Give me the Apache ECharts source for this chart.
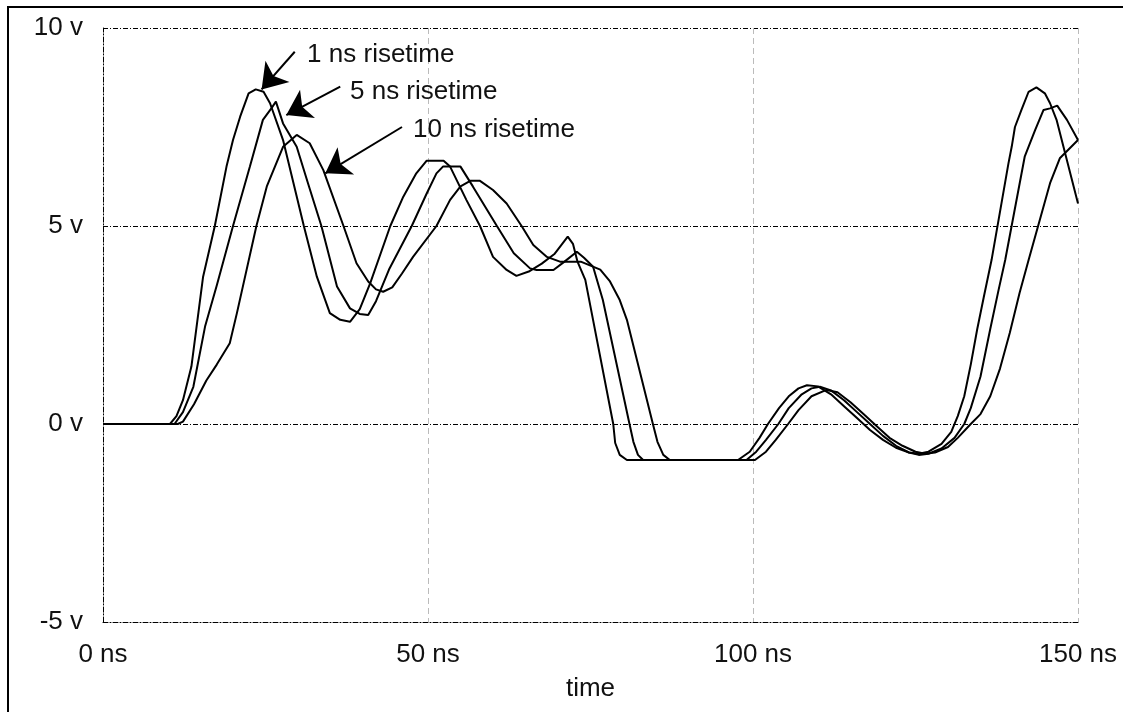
<!DOCTYPE html>
<html>
<head>
<meta charset="utf-8" />
<title>risetime</title>
<script src="https://cdn.jsdelivr.net/npm/echarts@6/dist/echarts.min.js"></script>
<style>
  html, body { margin: 0; padding: 0; background: #fff; }
  #chart { width: 1123px; height: 712px; }
</style>
</head>
<body>
<div id="chart"></div>
<script type="text/javascript">
// time (ns), voltage (v)
var rise1ns = [
  [0,0],[10.3,0],[11.3,0.2],[12.3,0.6],[13.6,1.45],[15.4,3.72],[17.2,5.0],[19,6.5],[20,7.17],[21.1,7.76],
  [22.4,8.35],[23.5,8.45],[24.7,8.39],[25.7,8.1],[27.7,7.17],[30.9,5.0],[32.9,3.72],[34.9,2.8],[36.5,2.63],
  [38,2.58],[39.5,2.9],[41.1,3.55],[44.2,5.0],[46.2,5.74],[48.2,6.33],[49.8,6.65],[52.4,6.65],[53.4,6.5],
  [55.9,5.66],[58,5.0],[60,4.22],[62.1,3.89],[63.6,3.74],[65.5,3.85],[67.5,4.05],[69.5,4.3],[71.5,4.73],
  [72.3,4.55],[73,4.1],[74.2,3.64],[78.5,0],[78.8,-0.48],[79.5,-0.78],[80.6,-0.91],[97.7,-0.91],[99.5,-0.7],
  [101,-0.35],[102.3,0],[104,0.4],[105.5,0.7],[107,0.9],[108.3,0.98],[110,0.95],[112,0.75],[114,0.45],
  [116,0.15],[118,-0.15],[120,-0.4],[122,-0.6],[124,-0.72],[125.5,-0.75],[127,-0.7],[129,-0.5],[130.5,-0.2],
  [131.5,0.2],[132.5,0.7],[133.5,1.5],[134.5,2.4],[135.5,3.2],[136.7,4.14],[139.3,6.58],[139.8,7.0],
  [140.3,7.5],[141.3,7.93],[142.4,8.39],[143.6,8.5],[144.9,8.35],[145.7,8.1],[146.7,7.68],[150,5.57]
];
var rise5ns = [
  [0,0],[11,0],[12.3,0.3],[13.9,0.94],[15.7,2.46],[17.5,3.5],[20,5.0],[22.6,6.5],[24.6,7.68],[25.9,7.97],
  [26.6,8.14],[27.7,7.59],[29.8,7.0],[31.5,6.1],[33.6,5.0],[36,3.47],[38,2.92],[39.5,2.78],[40.8,2.75],
  [42,3.1],[44,3.9],[47.5,5.0],[49.8,5.82],[51.3,6.33],[52.3,6.5],[55,6.5],[56.9,6.0],[60.6,5.0],[63.2,4.31],
  [65.7,3.93],[66.7,3.89],[69.3,3.89],[71,4.1],[72.9,4.35],[74,4.2],[75.4,3.97],[76.9,3.13],[81,0],
  [81.6,-0.45],[82.3,-0.78],[83.1,-0.91],[99,-0.91],[100.5,-0.7],[102,-0.4],[103.9,0],[105.5,0.4],
  [107.5,0.75],[109,0.9],[110.3,0.94],[112,0.85],[114,0.6],[116,0.3],[118,0],[120,-0.3],[122,-0.55],
  [124,-0.72],[125.5,-0.78],[127,-0.75],[129,-0.62],[131,-0.35],[132.5,0],[133.5,0.4],[135,1.2],[136.5,2.4],
  [137.8,3.4],[138.8,4.14],[141.8,6.75],[143.4,7.42],[144.7,7.93],[145.7,7.97],[146.8,8.04],[148.3,7.68],[150,7.17]
];
var rise10ns = [
  [0,0],[11.5,0],[12.3,0.06],[14,0.5],[15.9,1.1],[17.5,1.5],[19.5,2.04],[20.6,2.8],[23.6,5.0],[25.2,6.0],
  [27.7,7.0],[29.8,7.3],[31.8,7.09],[33.9,6.41],[37,5.0],[39,4.06],[40.8,3.6],[42,3.4],[43.1,3.34],[44.5,3.45],
  [46,3.8],[47.7,4.22],[51.3,5.0],[53.4,5.66],[55,6.0],[56.5,6.14],[58,6.14],[60,5.91],[62.1,5.57],[64.4,5.0],
  [66.2,4.52],[68.3,4.22],[70.3,4.1],[73.5,4.1],[76.5,3.9],[78,3.6],[79.5,3.13],[80.6,2.63],[84.6,0],
  [85.3,-0.45],[86.2,-0.78],[87.2,-0.91],[100.3,-0.91],[102,-0.7],[103.5,-0.4],[105.4,0],[107,0.35],[109,0.7],
  [111.3,0.86],[113,0.8],[115,0.55],[117,0.25],[119,-0.05],[121,-0.35],[123,-0.55],[125,-0.7],[126.5,-0.75],
  [128,-0.72],[130,-0.58],[131.5,-0.35],[133.5,0],[135,0.25],[136.5,0.7],[138,1.4],[139.5,2.3],[141,3.3],
  [142.4,4.14],[145.7,6.08],[147.2,6.71],[150,7.17]
];

// annotations: text anchor and arrow from / to, in data units
var noteText = ['1 ns risetime', '5 ns risetime', '10 ns risetime'];
var notePos = [[31.4, 9.33], [38, 8.38], [47.7, 7.42]];
var arrowFrom = [[29.5, 9.4], [36.5, 8.52], [46, 7.5]];
var arrowTo = [[24.4, 8.45], [28.2, 7.8], [34.2, 6.33]];

var xTicks = [0, 150, 50];   // min, max, step
var yTicks = [-5, 10, 5];

var dashDot = [5, 2, 1, 2];
var font = 'Liberation Sans';
var fontSize = 26;

var arrows = [];
for (var i = 0; i < arrowFrom.length; i++) {
  arrows.push([{ coord: arrowFrom[i] }, { coord: arrowTo[i] }]);
}
var notes = [];
for (var j = 0; j < noteText.length; j++) {
  notes.push([notePos[j][0], notePos[j][1], noteText[j]]);
}

function wave(name, data) {
  return {
    name: name,
    type: 'line',
    data: data,
    showSymbol: false,
    lineStyle: { color: '#000', width: 2 },
    itemStyle: { color: '#000' }
  };
}

var myChart = echarts.init(document.getElementById('chart'));
var option = {
  animation: false,
  backgroundColor: '#fff',
  textStyle: { fontFamily: font },
  grid: { left: 103, right: 45, top: 28, bottom: 90 },
  graphic: [{
    type: 'rect',
    shape: { x: 8, y: 7, width: 1300, height: 900 },
    style: { fill: 'none', stroke: '#000', lineWidth: 2 },
    silent: true
  }],
  xAxis: {
    type: 'value',
    min: xTicks[0], max: xTicks[1], interval: xTicks[2],
    name: 'time',
    nameLocation: 'middle',
    nameGap: 54,
    nameTextStyle: { fontSize: fontSize, color: '#111', fontFamily: font },
    axisLine: { show: true, onZero: false, lineStyle: { color: '#000', width: 1, type: dashDot } },
    axisTick: { show: false },
    axisLabel: { formatter: '{value} ns', fontSize: fontSize, color: '#111', margin: 20 },
    splitLine: { show: true, lineStyle: { color: '#bbb', width: 1, type: [6, 4] } }
  },
  yAxis: {
    type: 'value',
    min: yTicks[0], max: yTicks[1], interval: yTicks[2],
    axisLine: { show: true, onZero: false, lineStyle: { color: '#000', width: 1, type: dashDot } },
    axisTick: { show: false },
    axisLabel: { formatter: '{value} v', fontSize: fontSize, color: '#111', margin: 20 },
    splitLine: { show: true, lineStyle: { color: '#000', width: 1, type: dashDot } }
  },
  series: [
    wave('1 ns', rise1ns),
    wave('5 ns', rise5ns),
    wave('10 ns', rise10ns),
    {
      // arrows pointing at the three curves
      type: 'line',
      data: [],
      markLine: {
        silent: true,
        symbol: ['none', 'arrow'],
        symbolSize: 24,
        lineStyle: { color: '#000', width: 2, type: 'solid' },
        label: { show: false },
        data: arrows
      }
    },
    {
      type: 'scatter',
      data: notes,
      symbolSize: 0,
      silent: true,
      itemStyle: { opacity: 1, color: '#000' },
      label: {
        show: true,
        position: 'right',
        distance: 0,
        fontSize: fontSize,
        color: '#111',
        opacity: 1,
        fontFamily: font,
        formatter: function (p) { return p.value[2]; }
      }
    }
  ]
};
myChart.setOption(option);
</script>
</body>
</html>
